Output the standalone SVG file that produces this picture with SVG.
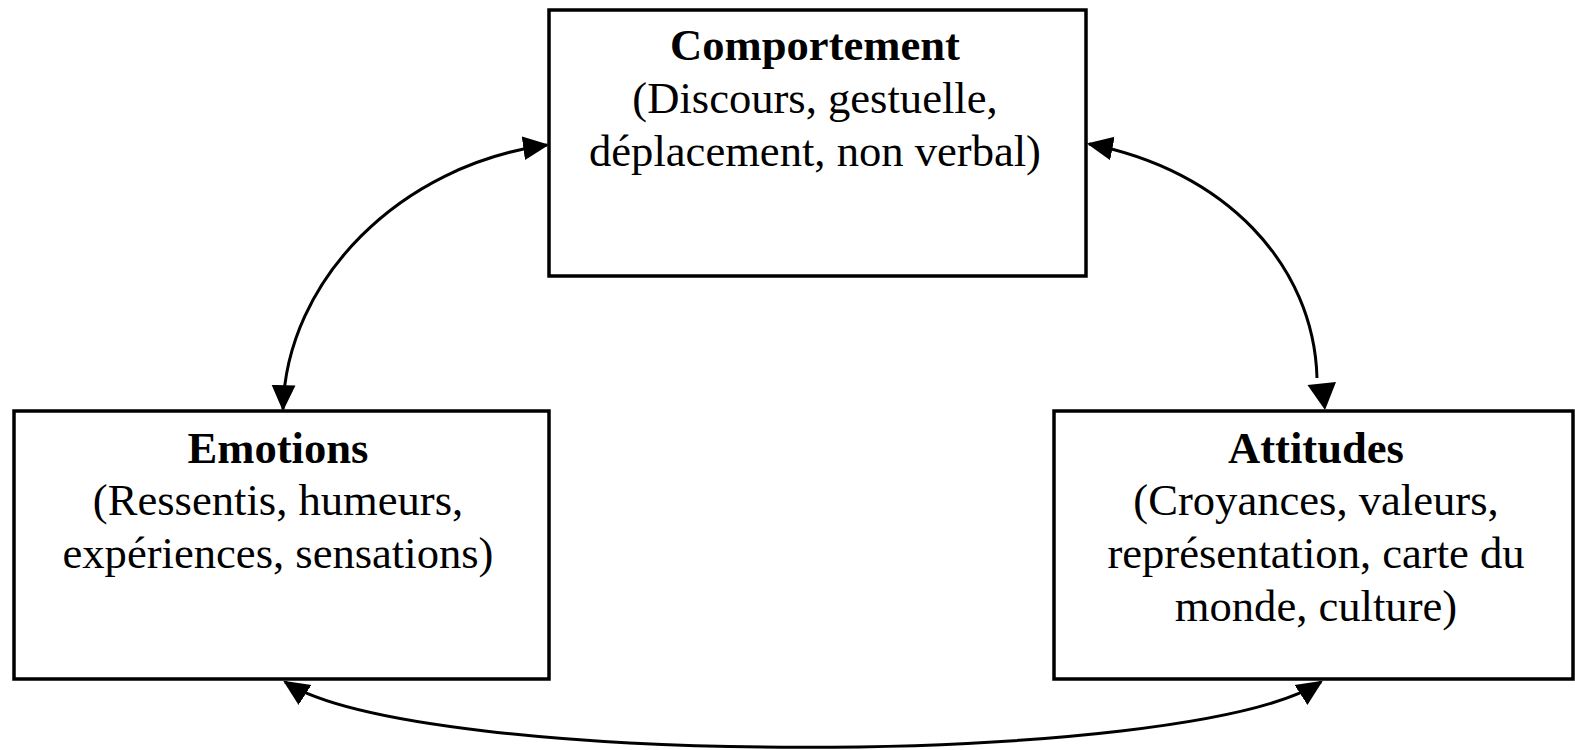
<svg xmlns="http://www.w3.org/2000/svg" width="1575" height="750" viewBox="0 0 1575 750">
<style>
.box{fill:#fff;stroke:#000;stroke-width:3.5}
.t{font-family:"Liberation Serif","Times New Roman",serif;font-size:44.6px;fill:#000;text-anchor:middle}
.b{font-weight:bold}
.c{fill:none;stroke:#000;stroke-width:3}
.ah{fill:#000}
</style>
<defs>
<marker id="ah" markerUnits="userSpaceOnUse" markerWidth="26" markerHeight="26" viewBox="0 0 24 24" refX="22" refY="12" orient="auto-start-reverse">
<path d="M0,1 L24,12 L0,23 z" fill="#000"/>
</marker>
</defs>
<g id="connectors">
<path class="c" d="M283 409 C 286 280, 400 165, 547 145" marker-start="url(#ah)" marker-end="url(#ah)"/>
<path class="c" d="M1089 144 C 1225 170, 1314 265, 1317 378" marker-start="url(#ah)"/>
<polygon class="ah" points="1325,410 1307.5,385 1336,382"/>
<path class="c" d="M285 682 C 420 769, 1186 769, 1321 682" marker-start="url(#ah)" marker-end="url(#ah)"/>
</g>
<g id="comportement">
<rect class="box" x="549" y="10" width="537" height="266"/>
<text class="t b" x="815" y="60">Comportement</text>
<text class="t" x="815" y="113">(Discours, gestuelle,</text>
<text class="t" x="815" y="166">déplacement, non verbal)</text>
</g>
<g id="emotions">
<rect class="box" x="14" y="411" width="535" height="268"/>
<text class="t b" x="278" y="463">Emotions</text>
<text class="t" x="278" y="515">(Ressentis, humeurs,</text>
<text class="t" x="278" y="568">expériences, sensations)</text>
</g>
<g id="attitudes">
<rect class="box" x="1054" y="411" width="519" height="268"/>
<text class="t b" x="1316" y="463">Attitudes</text>
<text class="t" x="1316" y="515">(Croyances, valeurs,</text>
<text class="t" x="1316" y="568">représentation, carte du</text>
<text class="t" x="1316" y="621">monde, culture)</text>
</g>
</svg>
